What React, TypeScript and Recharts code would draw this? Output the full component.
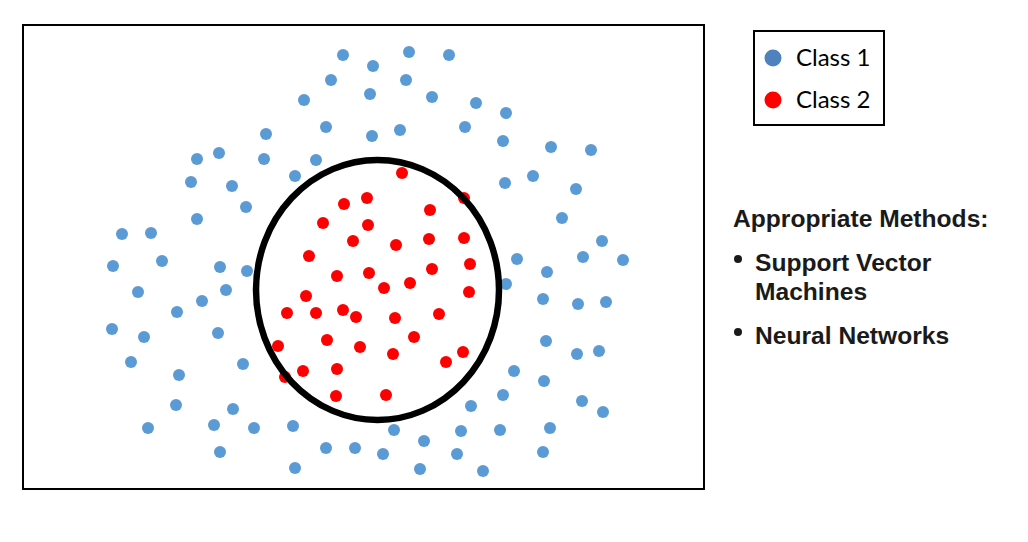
import React from "react";
import {
  ScatterChart,
  Scatter,
  XAxis,
  YAxis,
  ReferenceArea,
  ReferenceDot,
  Legend,
  Customized,
} from "recharts";

// feature space units (origin at bottom-left of the box)
const X_MAX = 681;
const Y_MAX = 464;

const class1X = [
  320, 350, 386, 426, 308, 347, 383, 409, 281, 453, 483, 303, 349, 377, 442, 480,
  243, 528, 568, 174, 196, 241, 293, 272, 168, 209, 482, 510, 553, 223, 174, 539,
  99, 128, 579, 90, 139, 197, 224, 494, 524, 560, 600, 115, 179, 203, 483, 520,
  555, 583, 154, 89, 121, 195, 523, 554, 576, 108, 220, 491, 156, 521, 153, 210,
  448, 480, 559, 580, 125, 191, 231, 270, 371, 401, 438, 477, 527, 197, 303, 332,
  360, 434, 520, 272, 397, 460,
];
const class1Y = [
  434, 423, 437, 434, 409, 395, 409, 392, 389, 386, 376, 362, 353, 359, 362, 348,
  355, 342, 339, 330, 336, 330, 329, 313, 307, 303, 306, 313, 300, 282, 270, 271,
  255, 256, 248, 223, 228, 222, 218, 230, 217, 232, 229, 197, 188, 199, 205, 190,
  185, 187, 177, 160, 152, 156, 148, 135, 138, 127, 125, 118, 114, 108, 84, 80,
  83, 94, 88, 77, 61, 64, 61, 63, 59, 48, 58, 59, 61, 37, 41, 41,
  35, 35, 37, 21, 20, 18,
];

const class2X = [
  379, 321, 344, 441, 300, 345, 407, 330, 373, 406, 441, 286, 447, 314, 346, 409,
  387, 361, 283, 446, 264, 293, 320, 333, 372, 416, 304, 337, 391, 255, 370, 440,
  423, 262, 280, 314, 313, 363,
];
const class2Y = [
  316, 285, 291, 291, 266, 264, 279, 248, 244, 250, 251, 233, 225, 213, 216, 220,
  206, 201, 193, 197, 176, 176, 179, 172, 171, 175, 149, 142, 152, 143, 135, 137,
  127, 112, 118, 120, 93, 94,
];

// decision boundary (ellipse in feature units)
const boundaryCenter = { x: 354.5, y: 199 };
const boundaryRadius = { x: 121.5, y: 130 };

const methods = ["Support Vector", "Machines", "Neural Networks"];

const class1 = class1X.map((x, i) => ({ x, y: class1Y[i] }));
const class2 = class2X.map((x, i) => ({ x, y: class2Y[i] }));

const W = 1028;
const H = 542;
const MARGIN = { top: 25, left: 23, right: 324, bottom: 53 };
const PX_X = (W - MARGIN.left - MARGIN.right) / X_MAX;
const PX_Y = (H - MARGIN.top - MARGIN.bottom) / Y_MAX;

const BLUE = "#5B9BD5";
const RED = "#FF0000";
const legendColors: Record<string, string> = {
  "Class 1": "#4F81BD",
  "Class 2": "#FF0000",
};

const dot = (color: string) => (p: any) =>
  <circle cx={p.cx} cy={p.cy} r={6} fill={color} />;

const LegendBox = ({ payload }: any) => (
  <svg width={132} height={96} style={{ display: "block" }}>
    <rect x={1} y={1} width={130} height={94} fill="#fff" stroke="#000" strokeWidth={2} />
    {(payload || []).map((e: any, i: number) => (
      <g key={e.value}>
        <circle cx={20} cy={28 + i * 42} r={8.5} fill={legendColors[e.value]} />
        <text x={43} y={36 + i * 42} fontFamily="Lato" fontSize={24} fill="#000">
          {e.value}
        </text>
      </g>
    ))}
  </svg>
);

const MethodsNote = () => (
  <g fontFamily="'Liberation Sans', Arial" fontWeight="bold" fontSize={24.6} fill="#1a1a1a">
    <text x={733} y={227}>Appropriate Methods:</text>
    <circle cx={738} cy={259} r={4} fill="#1a1a1a" />
    <text x={755} y={271}>{methods[0]}</text>
    <text x={755} y={300}>{methods[1]}</text>
    <circle cx={738} cy={332} r={4} fill="#1a1a1a" />
    <text x={755} y={344}>{methods[2]}</text>
  </g>
);

export default function App() {
  return (
    <div style={{ position: "absolute", left: 0, top: 0, width: W, height: H, background: "#fff" }}>
      <ScatterChart width={W} height={H} margin={MARGIN}>
        <XAxis type="number" dataKey="x" domain={[0, X_MAX]} hide />
        <YAxis type="number" dataKey="y" domain={[0, Y_MAX]} hide />
        <ReferenceArea
          x1={0}
          x2={X_MAX}
          y1={0}
          y2={Y_MAX}
          fill="none"
          stroke="#000"
          strokeWidth={2}
          fillOpacity={0}
        />
        <Scatter name="Class 1" data={class1} fill={BLUE} shape={dot(BLUE)} isAnimationActive={false} />
        <Scatter name="Class 2" data={class2} fill={RED} shape={dot(RED)} isAnimationActive={false} />
        <ReferenceDot
          x={boundaryCenter.x}
          y={boundaryCenter.y}
          shape={(p: any) => (
            <ellipse
              cx={p.cx}
              cy={p.cy}
              rx={boundaryRadius.x * PX_X}
              ry={boundaryRadius.y * PX_Y}
              fill="none"
              stroke="#000"
              strokeWidth={6.5}
            />
          )}
        />
        <Legend
          layout="horizontal"
          verticalAlign="middle"
          align="center"
          content={<LegendBox />}
          wrapperStyle={{ position: "absolute", left: 753, top: 30, width: 132, height: 96 }}
        />
        <Customized component={MethodsNote} />
      </ScatterChart>
    </div>
  );
}
